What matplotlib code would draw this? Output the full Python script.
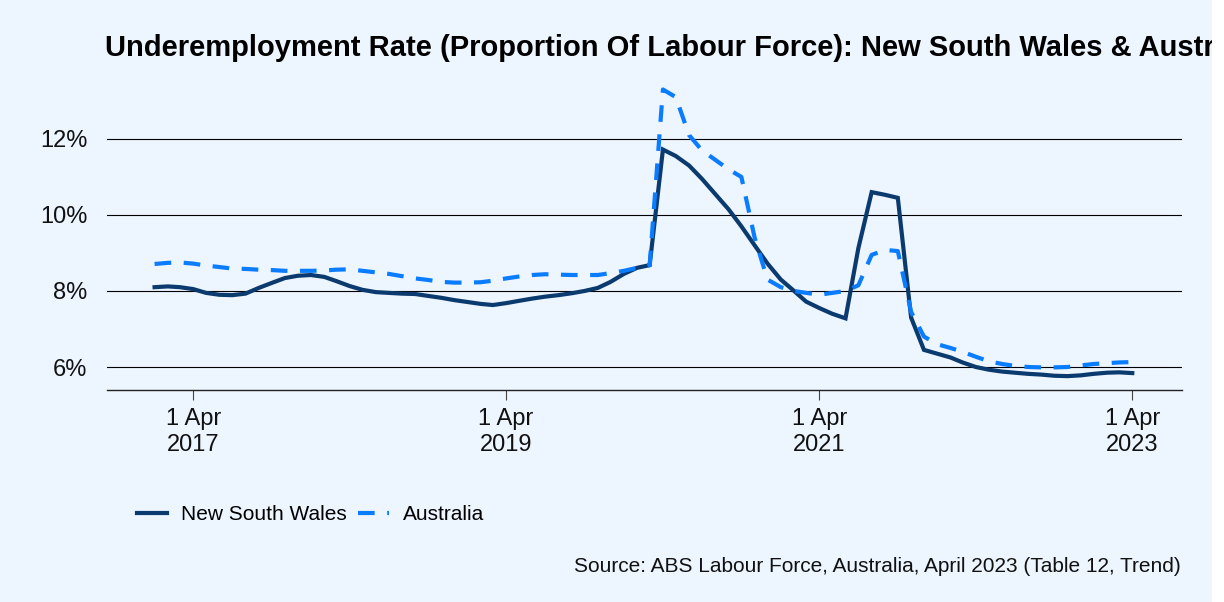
import pandas as pd
import matplotlib.pyplot as plt
from matplotlib.patches import Rectangle

plt.rcParams['font.family'] = ['Liberation Sans', 'DejaVu Sans']

# Monthly trend series, Jan 2017 - Apr 2023
months = pd.date_range('2017-01-01', periods=76, freq='MS')

nsw = [8.10, 8.12, 8.10, 8.05, 7.95, 7.90, 7.89, 7.93, 8.08, 8.21, 8.34, 8.40,
       8.42, 8.37, 8.26, 8.13, 8.03, 7.97, 7.95, 7.93, 7.92, 7.87, 7.82, 7.76,
       7.71, 7.66, 7.63, 7.68, 7.74, 7.80, 7.85, 7.89, 7.94, 8.00, 8.08, 8.24,
       8.45, 8.61, 8.68, 11.72, 11.55, 11.30, 10.95, 10.55, 10.15, 9.70, 9.20, 8.72,
       8.30, 8.00, 7.72, 7.55, 7.40, 7.28, 9.13, 10.60, 10.53, 10.45, 7.30, 6.45,
       6.35, 6.25, 6.12, 6.00, 5.93, 5.88, 5.85, 5.82, 5.80, 5.77, 5.76, 5.78,
       5.82, 5.85, 5.86, 5.84]

aus = [8.71, 8.74, 8.75, 8.72, 8.67, 8.63, 8.59, 8.58, 8.56, 8.55, 8.53, 8.53,
       8.53, 8.54, 8.56, 8.57, 8.53, 8.49, 8.45, 8.39, 8.33, 8.29, 8.24, 8.22,
       8.22, 8.23, 8.27, 8.33, 8.38, 8.42, 8.44, 8.43, 8.42, 8.42, 8.42, 8.47,
       8.53, 8.61, 8.68, 13.30, 13.10, 12.10, 11.70, 11.45, 11.20, 11.00, 9.40, 8.30,
       8.10, 8.00, 7.95, 7.90, 7.95, 8.00, 8.15, 8.95, 9.08, 9.05, 7.45, 6.80,
       6.60, 6.50, 6.40, 6.27, 6.15, 6.08, 6.03, 6.00, 5.99, 5.99, 6.00, 6.04,
       6.08, 6.10, 6.12, 6.13]

tick_dates = pd.to_datetime(['2017-04-01', '2019-04-01', '2021-04-01', '2023-04-01'])
tick_labels = ['1 Apr\n2017', '1 Apr\n2019', '1 Apr\n2021', '1 Apr\n2023']
y_ticks = [6, 8, 10, 12]

bg = '#EDF5FF'
fig = plt.figure(figsize=(12.24, 6.02), dpi=100, facecolor=bg)
ax = fig.add_axes([107 / 1224, 1 - 390 / 602, (1182 - 107) / 1224, (390 - 80) / 602])
ax.set_facecolor(bg)

ax.plot(months, nsw, color='#0B3A6F', lw=3, label='New South Wales', solid_joinstyle='miter')
ax.plot(months, aus, color='#0A7CFF', lw=3, dashes=(4, 3), label='Australia')

ax.set_xlim(pd.Timestamp('2016-09-12'), pd.Timestamp('2023-07-26'))
ax.set_ylim(5.395, 13.55)

ax.set_yticks(y_ticks)
ax.set_yticklabels([f'{v}%' for v in y_ticks])
ax.set_xticks(tick_dates)
ax.set_xticklabels(tick_labels, linespacing=1.25)

ax.grid(axis='y', color='black', lw=0.8)
ax.set_axisbelow(True)
for s in ['top', 'right', 'left']:
    ax.spines[s].set_visible(False)
ax.spines['bottom'].set_color('#222222')
ax.spines['bottom'].set_linewidth(1)
ax.tick_params(axis='y', length=0, pad=14, labelsize=17, labelcolor='#111111')
ax.tick_params(axis='x', length=7, width=0.8, color='#444444', pad=6, labelsize=17,
               labelcolor='#111111')

# title runs past the right edge, as in the original
fig.text(105 / 1224, 1 - 48 / 602,
         'Underemployment Rate (Proportion Of Labour Force): New South Wales & Australia',
         fontsize=21, fontweight='bold', ha='left', va='center', color='black')

fig.legend(loc='center left', bbox_to_anchor=(118 / 1224, 1 - 515 / 602), ncol=2,
           frameon=False, fontsize=15, handlelength=1.45, columnspacing=0.55,
           handletextpad=0.68)

fig.text(1181 / 1224, 1 - 566 / 602,
         'Source: ABS Labour Force, Australia, April 2023 (Table 12, Trend)',
         fontsize=15, ha='right', va='center', color='#111111')

# white strip at the right edge of the original image
fig.patches.append(Rectangle((1212 / 1224, 0), 12 / 1224, 1, transform=fig.transFigure,
                             facecolor='white', edgecolor='none', zorder=10))

fig.savefig('out.png', dpi=100, facecolor=bg)
